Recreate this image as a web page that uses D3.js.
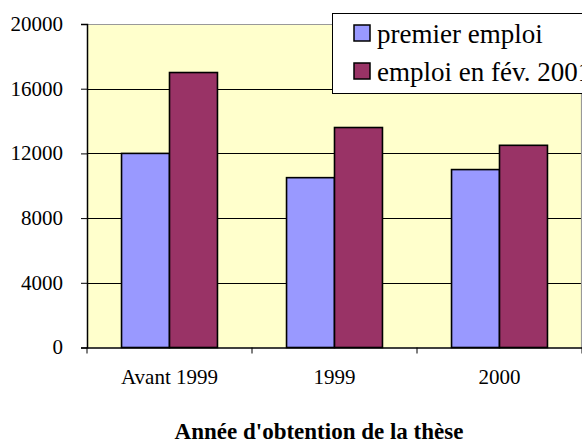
<!DOCTYPE html>
<html>
<head>
<meta charset="utf-8">
<script src="https://cdn.jsdelivr.net/npm/d3@7"></script>
<style>
  body { margin: 0; background: #fff; }
  text { font-family: "Liberation Serif", "Times New Roman", serif; fill: #000; }
</style>
</head>
<body>
<div class="chart"></div>
<script>
// donnees
var categories = ["Avant 1999", "1999", "2000"];
var series = ["premier emploi", "emploi en fév. 2001"];
var premierEmploi = [12000, 10500, 11000];
var emploiFev2001 = [17000, 13600, 12500];
var yTicks = [0, 4000, 8000, 12000, 16000, 20000];
var colors = ["#9999FF", "#993366"];
var xTitle = "Année d'obtention de la thèse";

var width = 582, height = 441;
var plot = {left: 87, top: 24, right: 581, bottom: 347.5};

var svg = d3.select(".chart").append("svg")
    .attr("width", width)
    .attr("height", height);

// scales
var x0 = d3.scaleBand()
    .domain(categories)
    .range([plot.left, plot.right + 1])
    .padding(0);

var x1 = d3.scaleBand()
    .domain(series)
    .range([0, x0.bandwidth()])
    .paddingInner(0)
    .paddingOuter(0.72);

var y = d3.scaleLinear()
    .domain([0, 20000])
    .range([plot.bottom, plot.top]);

// fond de la zone de tracé
svg.append("rect")
    .attr("x", plot.left)
    .attr("y", plot.top)
    .attr("width", plot.right - plot.left)
    .attr("height", plot.bottom - plot.top)
    .attr("fill", "#FFFFCC");

// quadrillage
svg.append("g").selectAll("line")
    .data(yTicks.filter(function(d) { return d > 0 && d < 20000; }))
    .enter().append("line")
    .attr("x1", plot.left)
    .attr("x2", plot.right)
    .attr("y1", function(d) { return Math.round(y(d)) + 0.5; })
    .attr("y2", function(d) { return Math.round(y(d)) + 0.5; })
    .attr("stroke", "#000")
    .attr("stroke-width", 1);

// bordure haut / droite grise
svg.append("path")
    .attr("d", "M" + plot.left + "," + (plot.top + 0.5) + "H" + (plot.right + 0.5) + "V" + plot.bottom)
    .attr("fill", "none")
    .attr("stroke", "#999")
    .attr("stroke-width", 1.2);

var data = categories.map(function(c, i) {
    return {cat: c, values: [premierEmploi[i], emploiFev2001[i]]};
});

// barres
var groups = svg.append("g").selectAll("g")
    .data(data)
    .enter().append("g")
    .attr("transform", function(d) { return "translate(" + x0(d.cat) + ",0)"; });

groups.selectAll("rect")
    .data(function(d) {
        return d.values.map(function(v, j) { return {serie: series[j], value: v, idx: j}; });
    })
    .enter().append("rect")
    .attr("x", function(d) { return x1(d.serie); })
    .attr("y", function(d) { return y(d.value); })
    .attr("width", x1.bandwidth())
    .attr("height", function(d) { return y(0) - y(d.value); })
    .attr("fill", function(d) { return colors[d.idx]; })
    .attr("stroke", "#000")
    .attr("stroke-width", 1.6);

// axe Y
var yAxis = svg.append("g")
    .attr("transform", "translate(" + plot.left + ",0)")
    .call(d3.axisLeft(y).tickValues(yTicks).tickSize(6).tickPadding(18).tickFormat(d3.format("d")));
yAxis.select(".domain").attr("stroke", "#000").attr("stroke-width", 1.5);
yAxis.selectAll(".tick line").attr("stroke", "#000");
yAxis.selectAll(".tick text")
    .attr("font-size", 21)
    .attr("font-family", "'Liberation Serif', 'Times New Roman', serif")
    .attr("dy", "0.3em");

// axe X
var xAxis = svg.append("g")
    .attr("transform", "translate(0," + plot.bottom + ")")
    .call(d3.axisBottom(x0).tickSize(0).tickPadding(22));
xAxis.select(".domain").attr("stroke", "#000").attr("stroke-width", 1.5);
xAxis.selectAll(".tick text")
    .attr("font-size", 21)
    .attr("font-family", "'Liberation Serif', 'Times New Roman', serif")
    .attr("dy", "0.71em");

// petites graduations entre categories
svg.append("g").selectAll("line")
    .data(categories.concat(["fin"]))
    .enter().append("line")
    .attr("x1", function(d, i) { return i < categories.length ? x0(d) : x0(categories[i - 1]) + x0.bandwidth(); })
    .attr("x2", function(d, i) { return i < categories.length ? x0(d) : x0(categories[i - 1]) + x0.bandwidth(); })
    .attr("y1", plot.bottom)
    .attr("y2", plot.bottom + 6)
    .attr("stroke", "#000");

// titre axe X
svg.append("text")
    .attr("x", 319)
    .attr("y", 439)
    .attr("text-anchor", "middle")
    .attr("font-size", 23)
    .attr("font-weight", "bold")
    .text(xTitle);

// legende
var legend = svg.append("g").attr("transform", "translate(332,13)");
legend.append("rect")
    .attr("x", 0.5)
    .attr("y", 0.5)
    .attr("width", 300)
    .attr("height", 80)
    .attr("fill", "#fff")
    .attr("stroke", "#000")
    .attr("stroke-width", 1);

var items = legend.selectAll(".item")
    .data(series)
    .enter().append("g")
    .attr("class", "item")
    .attr("transform", function(d, i) { return "translate(22," + (12 + i * 38) + ")"; });

items.append("rect")
    .attr("width", 16)
    .attr("height", 16)
    .attr("fill", function(d, i) { return colors[i]; })
    .attr("stroke", "#000")
    .attr("stroke-width", 1.5);

items.append("text")
    .attr("x", 23)
    .attr("y", 18)
    .attr("font-size", 27)
    .text(function(d) { return d; });
</script>
</body>
</html>
